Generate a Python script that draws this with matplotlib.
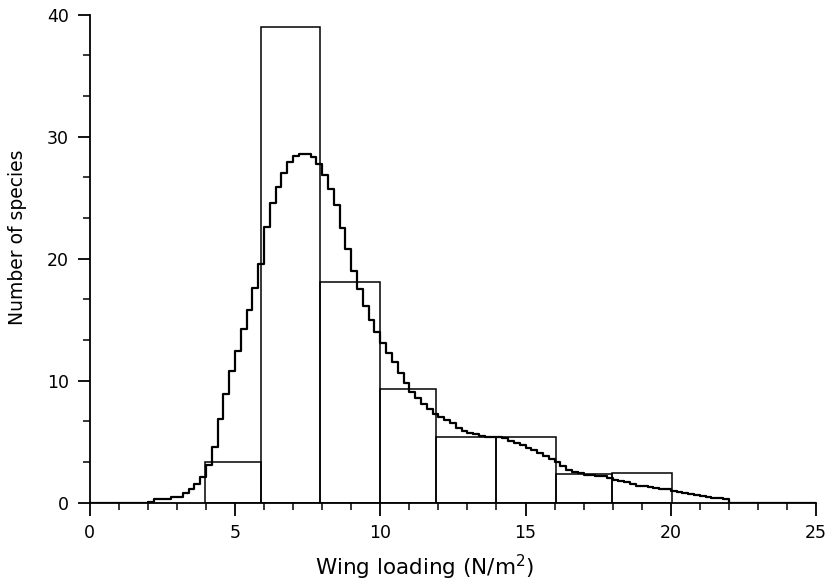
import numpy as np
import matplotlib
matplotlib.use("Agg")
import matplotlib.pyplot as plt
from matplotlib.ticker import MultipleLocator

# histogram bins (bar edges) and counts
bin_edges = [3.95, 5.9, 7.92, 10.0, 11.92, 14.0, 16.05, 17.98, 20.05]
bin_counts = [3.3, 39.0, 18.1, 9.3, 5.35, 5.35, 2.35, 2.4]

# smoothed distribution, drawn as steps
curve_x = [0.0, 2.0, 2.2, 2.4, 2.6, 2.8, 3.0, 3.2, 3.4, 3.6, 3.8,
           4.0, 4.2, 4.4, 4.6, 4.8, 5.0, 5.2, 5.4, 5.6, 5.8,
           6.0, 6.2, 6.4, 6.6, 6.8, 7.0, 7.2, 7.4, 7.6, 7.8,
           8.0, 8.2, 8.4, 8.6, 8.8, 9.0, 9.2, 9.4, 9.6, 9.8,
           10.0, 10.2, 10.4, 10.6, 10.8, 11.0, 11.2, 11.4, 11.6, 11.8,
           12.0, 12.2, 12.4, 12.6, 12.8, 13.0, 13.2, 13.4, 13.6, 13.8,
           14.0, 14.2, 14.4, 14.6, 14.8, 15.0, 15.2, 15.4, 15.6, 15.8,
           16.0, 16.2, 16.4, 16.6, 16.8, 17.0, 17.2, 17.4, 17.6, 17.8,
           18.0, 18.2, 18.4, 18.6, 18.8, 19.0, 19.2, 19.4, 19.6, 19.8,
           20.0, 20.2, 20.4, 20.6, 20.8, 21.0, 21.2, 21.4, 21.6, 21.8,
           22.0, 25.0]
curve_y = [0.0, 0.1, 0.3, 0.3, 0.3, 0.5, 0.5, 0.8, 1.1, 1.5, 2.1,
           3.1, 4.6, 6.9, 8.9, 10.8, 12.4, 14.2, 15.8, 17.6, 19.6,
           22.6, 24.6, 25.9, 27.0, 27.9, 28.4, 28.6, 28.6, 28.3, 27.8,
           26.9, 25.7, 24.4, 22.5, 20.8, 19.0, 17.5, 16.1, 15.0, 14.0,
           13.1, 12.3, 11.5, 10.6, 9.8, 9.1, 8.6, 8.1, 7.7, 7.3,
           7.0, 6.8, 6.5, 6.1, 5.9, 5.7, 5.6, 5.5, 5.4, 5.4,
           5.4, 5.3, 5.1, 4.9, 4.7, 4.5, 4.3, 4.1, 3.8, 3.6,
           3.3, 3.0, 2.7, 2.5, 2.4, 2.3, 2.3, 2.2, 2.2, 2.0,
           1.9, 1.8, 1.7, 1.5, 1.4, 1.35, 1.3, 1.2, 1.15, 1.1,
           0.95, 0.85, 0.8, 0.7, 0.6, 0.55, 0.5, 0.4, 0.35, 0.3,
           0.0, 0.0]

plt.rcParams['font.family'] = ['DejaVu Sans']

fig = plt.figure(figsize=(8.31, 5.88), dpi=100)
ax = fig.add_axes([0.108, 0.145, 0.874, 0.83])

lefts = np.array(bin_edges[:-1])
widths = np.diff(bin_edges)
ax.bar(lefts, bin_counts, width=widths, align='edge', facecolor='none',
       edgecolor='black', linewidth=1.1, zorder=2)

ax.plot(curve_x, curve_y, drawstyle='steps-post', color='black',
        linewidth=1.6, zorder=3)

ax.set_xlim(0, 25)
ax.set_ylim(0, 40)
ax.spines['top'].set_visible(False)
ax.spines['right'].set_visible(False)
ax.spines['left'].set_linewidth(1.3)
ax.spines['bottom'].set_linewidth(1.3)

ax.xaxis.set_major_locator(MultipleLocator(5))
ax.xaxis.set_minor_locator(MultipleLocator(1))
ax.yaxis.set_major_locator(MultipleLocator(10))
ax.yaxis.set_minor_locator(MultipleLocator(10 / 3))
ax.tick_params(which='major', length=9, width=1.3, labelsize=12.5, pad=6)
ax.tick_params(which='minor', length=5, width=1.1)

ax.set_xlabel('Wing loading (N/m$^2$)', fontsize=15.5)
ax.set_ylabel('Number of species', fontsize=13.5)
ax.xaxis.set_label_coords(0.461, -0.103)
ax.yaxis.set_label_coords(-0.087, 0.545)

fig.savefig('out.png', dpi=100)
